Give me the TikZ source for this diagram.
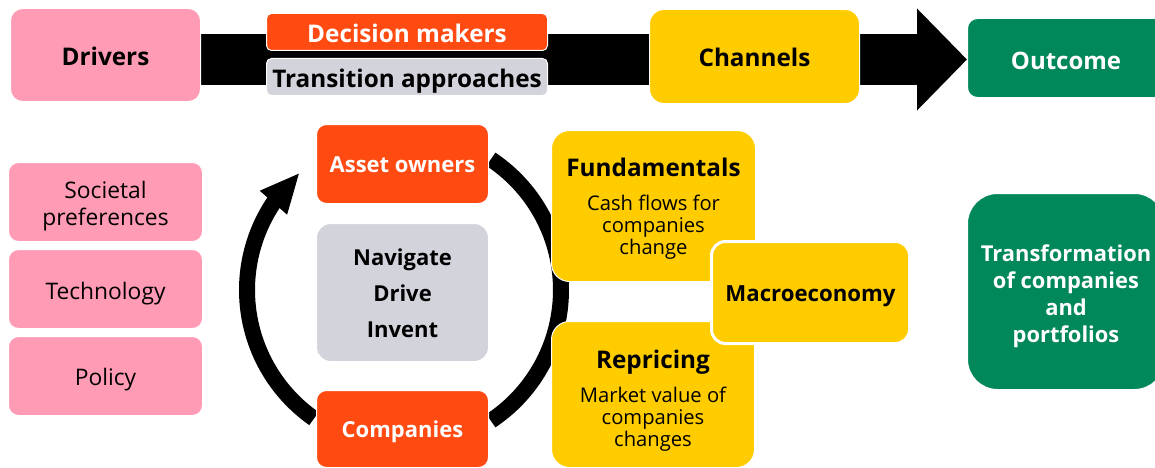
\documentclass[tikz,border=0pt]{standalone}
\usepackage{fontspec}
\setmainfont{Open Sans}
\usetikzlibrary{arrows.meta,bending,backgrounds}
\definecolor{cpink}{HTML}{FF9BB5}
\definecolor{corange}{HTML}{FF4A12}
\definecolor{cgrey}{HTML}{D3D3DC}
\definecolor{cyellow}{HTML}{FFCC00}
\definecolor{cgreen}{HTML}{00875A}
\newcommand{\fsz}[2]{\fontsize{#1}{#2}\selectfont}
\tikzset{
  x=1pt,y=1pt,
  box/.style={rectangle,inner sep=0pt,align=center,text=black,draw=white,line width=1pt},
  oneline/.style={text height=#1,text depth=0pt},
  headbox/.style={box,oneline=21pt,font=\fsz{24.3}{28}\bfseries},
  pinkbox/.style={box,fill=cpink,rounded corners=10pt,minimum width=194pt,minimum height=79pt,font=\fsz{22.8}{27}},
  orangebox/.style={box,oneline=17pt,fill=corange,text=white,rounded corners=10pt,minimum width=172pt,font=\fsz{22}{25}\bfseries},
  yellowbox/.style={box,fill=cyellow,rounded corners=18pt},
  greenbox/.style={box,fill=cgreen,text=white,rounded corners=10pt,minimum width=197pt},
  ring/.style={line width=16pt,black},
}
\begin{document}
\begin{tikzpicture}
\useasboundingbox (0,0) rectangle (1155,467);
\clip (0,0) rectangle (1155,467);
% top row
\node[headbox,fill=cpink,rounded corners=12pt,minimum width=190pt,minimum height=93pt] (drivers) at (105.5,412) {Drivers};
\node[headbox,fill=corange,text=white,rounded corners=5pt,minimum width=281pt,minimum height=37pt] (decision) at (407,435) {Decision makers};
\node[headbox,fill=cgrey,rounded corners=5pt,minimum width=281pt,minimum height=37pt] (transition) at (407,390) {Transition approaches};
\node[headbox,fill=cyellow,rounded corners=14pt,minimum width=210pt,minimum height=94pt] (channels) at (754.5,410.5) {Channels};
\node[greenbox,oneline=23pt,font=\fsz{24}{28}\bfseries,minimum height=79pt] (outcome) at (1066,409) {Outcome};
\coordinate (tip) at (967,407.5);
% drivers column
\node[pinkbox] (societal) at (105.5,265) {\rule{0pt}{25pt}Societal\\preferences};
\node[pinkbox,oneline=21pt] (technology) at (105.5,178) {Technology};
\node[pinkbox,oneline=19pt] (policy) at (105.5,91) {Policy};
% cycle
\coordinate (rc) at (404,177);
\coordinate (ringLs) at ([shift={(235:157)}]rc);
\coordinate (ringRs) at ([shift={(56.4:157)}]rc);
\node[orangebox,minimum height=79pt] (owners) at (402.5,303) {Asset owners};
\node[box,fill=cgrey,rounded corners=14pt,minimum width=172pt,minimum height=138pt,font=\fsz{22}{36}\bfseries] (modes) at (402.5,174.5) {\rule{0pt}{18pt}Navigate\\Drive\\Invent};
\node[orangebox,minimum height=77pt] (companies) at (402.5,38) {Companies};
% channels detail
\node[yellowbox,minimum width=204pt,minimum height=151pt,font=\fsz{20.2}{22}] (fund) at (653.5,261) {\rule{0pt}{24pt}{\fsz{24.3}{28}\bfseries Fundamentals}\\[12pt]Cash flows for\\companies\\change};
\node[yellowbox,minimum width=203pt,minimum height=146pt,font=\fsz{20.2}{22}] (repricing) at (653,72.5) {\rule{0pt}{30pt}{\fsz{24.3}{28}\bfseries Repricing}\\[12pt]Market value of\\companies\\changes};
\node[box,oneline=18pt,fill=cyellow,rounded corners=14pt,draw=white,line width=3pt,minimum width=198pt,minimum height=102pt,font=\fsz{22.2}{26}\bfseries] (macro) at (810.5,174.5) {Macroeconomy};
% outcome detail
\node[greenbox,rounded corners=30pt,minimum height=196pt,font=\fsz{21.9}{27}\bfseries] (transform) at (1066,175.5) {\rule{0pt}{27pt}Transformation\\of companies\\and\\portfolios};
% connectors behind the boxes
\begin{scope}[on background layer]
\fill[white] (0,0) rectangle (1155,467);
\draw[line width=51pt,-{Triangle[length=50pt,width=99pt]}] (drivers.east |- tip) -- (tip);
\draw[ring] (ringRs) arc[start angle=56.4,end angle=-56.4,radius=157];
\draw[ring,-{Triangle[length=40pt,width=33pt,flex=1]}] (ringLs) arc[start angle=235,end angle=131.6,radius=157];
\end{scope}
\end{tikzpicture}
\end{document}
